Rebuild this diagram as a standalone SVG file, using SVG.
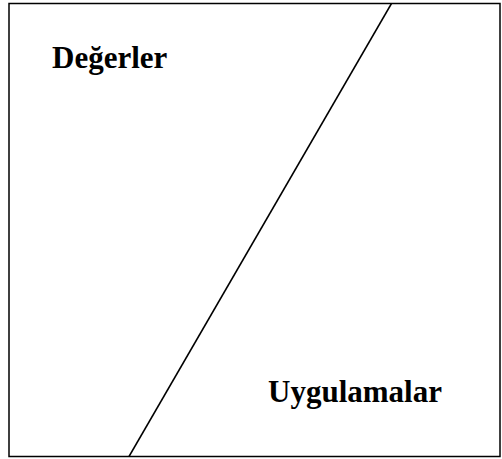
<svg xmlns="http://www.w3.org/2000/svg" width="502" height="459" viewBox="0 0 502 459">
<style>
.lbl{font-family:"Liberation Serif","Times New Roman",serif;font-weight:bold;font-size:31px;fill:#000}
.ln{stroke:#000;stroke-width:1.5;fill:none}
</style>
<rect x="0" y="0" width="502" height="459" fill="#fff"/>
<g id="frame"><rect class="ln" x="9" y="3.5" width="491" height="453" stroke-width="2"/></g>
<g id="connectors"><line class="ln" x1="391.5" y1="3.5" x2="129" y2="456.5"/></g>
<g id="degerler"><text class="lbl" x="52" y="68">Değerler</text></g>
<g id="uygulamalar"><text class="lbl" x="268" y="402">Uygulamalar</text></g>
</svg>
